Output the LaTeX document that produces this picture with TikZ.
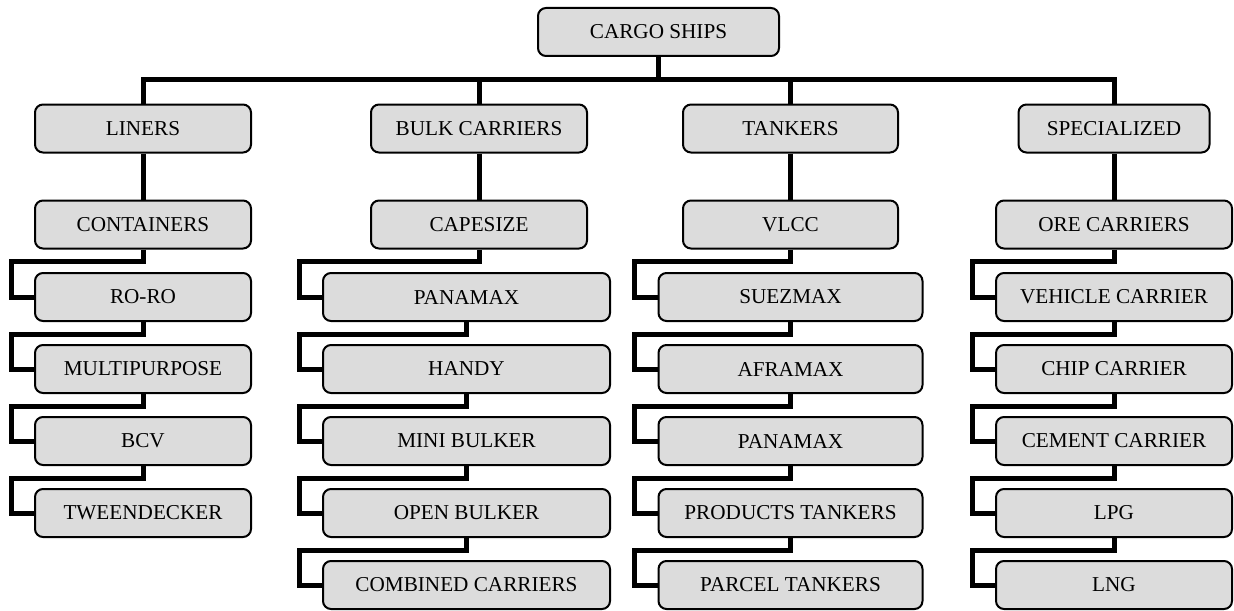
\documentclass[tikz,border=0pt]{standalone}
\usepackage{fontspec}
\setmainfont{Liberation Serif}
\usetikzlibrary{backgrounds}
\definecolor{boxgray}{HTML}{DCDCDC}
\newcommand\chlink[2]{\draw[conn] (#1.south) -- ++(0,12) -| ([xshift=-11.5pt]#2.west) -- (#2.west);}
\begin{document}
\begin{tikzpicture}[x=0.5pt,y=-0.5pt,
  box/.style={draw=black, line width=1pt, fill=boxgray, rounded corners=4pt,
    minimum height=24pt, inner sep=0pt, font=\fontsize{10.6}{12}\selectfont},
  conn/.style={line width=2.5pt, line join=miter}]
\useasboundingbox (0,0) rectangle (1234,610);
% top
\node[box,minimum width=120.5pt] (cargo) at (658.5,32) {CARGO SHIPS};
% level 1
\node[box,minimum width=108pt] (liners) at (143,128.5) {LINERS};
\node[box,minimum width=108pt] (bulk) at (479,128.5) {BULK CARRIERS};
\node[box,minimum width=107.5pt] (tankers) at (790.5,128.5) {TANKERS};
\node[box,minimum width=95.5pt] (spec) at (1114,128.5) {SPECIALIZED};
% level 2
\node[box,minimum width=108pt] (containers) at (143,224.5) {CONTAINERS};
\node[box,minimum width=108pt] (capesize) at (479,224.5) {CAPESIZE};
\node[box,minimum width=107.5pt] (vlcc) at (790.5,224.5) {VLCC};
\node[box,minimum width=118pt] (ore) at (1114,224.5) {ORE CARRIERS};
% liners children
\node[box,minimum width=108pt] (roro) at (143,297) {RO-RO};
\node[box,minimum width=108pt] (multi) at (143,369) {MULTIPURPOSE};
\node[box,minimum width=108pt] (bcv) at (143,441) {BCV};
\node[box,minimum width=108pt] (tween) at (143,513) {TWEENDECKER};
% bulk children
\node[box,minimum width=143.5pt] (panamaxb) at (466.5,297) {PANAMAX};
\node[box,minimum width=143.5pt] (handy) at (466.5,369) {HANDY};
\node[box,minimum width=143.5pt] (mini) at (466.5,441) {MINI BULKER};
\node[box,minimum width=143.5pt] (open) at (466.5,513) {OPEN BULKER};
\node[box,minimum width=143.5pt] (combined) at (466.5,585) {COMBINED CARRIERS};
% tanker children
\node[box,minimum width=132pt] (suezmax) at (790.5,297) {SUEZMAX};
\node[box,minimum width=132pt] (aframax) at (790.5,369) {AFRAMAX};
\node[box,minimum width=132pt] (panamaxt) at (790.5,441) {PANAMAX};
\node[box,minimum width=132pt] (products) at (790.5,513) {PRODUCTS TANKERS};
\node[box,minimum width=132pt] (parcel) at (790.5,585) {PARCEL TANKERS};
% specialized children
\node[box,minimum width=118pt] (vehicle) at (1114,297) {VEHICLE CARRIER};
\node[box,minimum width=118pt] (chip) at (1114,369) {CHIP CARRIER};
\node[box,minimum width=118pt] (cement) at (1114,441) {CEMENT CARRIER};
\node[box,minimum width=118pt] (lpg) at (1114,513) {LPG};
\node[box,minimum width=118pt] (lng) at (1114,585) {LNG};
\coordinate (bus) at (658.5,80);
\begin{scope}[on background layer]
\draw[conn] (cargo.south) -- (bus);
\draw[conn] (liners.north) |- (bus) -| (spec.north);
\draw[conn] (bulk.north) -- (bulk.north |- bus);
\draw[conn] (tankers.north) -- (tankers.north |- bus);
\draw[conn] (liners.south) -- (containers.north);
\draw[conn] (bulk.south) -- (capesize.north);
\draw[conn] (tankers.south) -- (vlcc.north);
\draw[conn] (spec.south) -- (ore.north);
\chlink{containers}{roro}
\chlink{roro}{multi}
\chlink{multi}{bcv}
\chlink{bcv}{tween}
\chlink{capesize}{panamaxb}
\chlink{panamaxb}{handy}
\chlink{handy}{mini}
\chlink{mini}{open}
\chlink{open}{combined}
\chlink{vlcc}{suezmax}
\chlink{suezmax}{aframax}
\chlink{aframax}{panamaxt}
\chlink{panamaxt}{products}
\chlink{products}{parcel}
\chlink{ore}{vehicle}
\chlink{vehicle}{chip}
\chlink{chip}{cement}
\chlink{cement}{lpg}
\chlink{lpg}{lng}
\end{scope}
\end{tikzpicture}
\end{document}
